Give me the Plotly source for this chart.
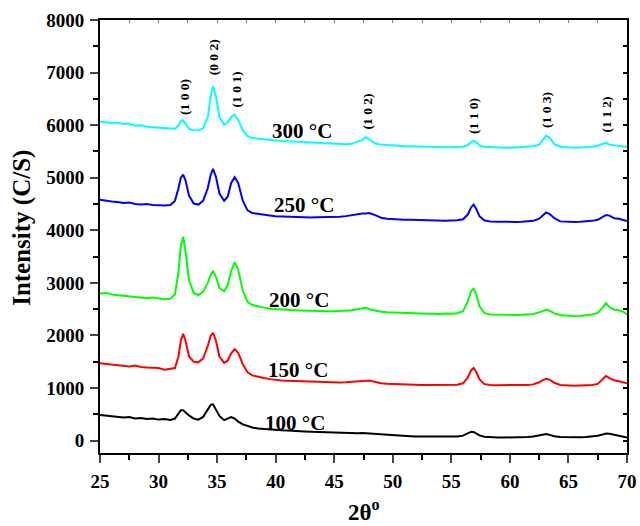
import plotly.graph_objects as go

# 2-theta sampling positions (degrees)
two_theta = [
    25.0, 25.5, 26.0, 26.5, 27.0, 27.5, 28.0, 28.5, 29.0, 29.5,
    30.0, 30.5, 31.0, 31.4, 31.7, 31.9, 32.1, 32.3, 32.6, 33.0,
    33.4, 33.8, 34.2, 34.45, 34.65, 34.9, 35.2, 35.6, 35.9, 36.2,
    36.5, 36.8, 37.2, 37.6, 38.0, 38.5, 39.0, 39.5, 40.0, 40.5,
    41.0, 41.5, 42.0, 42.5, 43.0, 43.5, 44.0, 44.5, 45.0, 45.5,
    46.0, 46.5, 47.0, 47.4, 47.7, 48.0, 48.5, 49.0, 49.5, 50.0,
    50.5, 51.0, 51.5, 52.0, 52.5, 53.0, 53.5, 54.0, 54.5, 55.0,
    55.5, 56.0, 56.4, 56.7, 56.9, 57.1, 57.4, 57.8, 58.3, 59.0,
    59.5, 60.0, 60.5, 61.0, 61.5, 62.0, 62.5, 62.8, 63.1, 63.4,
    63.8, 64.3, 65.0, 65.5, 66.0, 66.5, 67.0, 67.5, 67.9, 68.2,
    68.5, 68.9, 69.3, 69.7, 70.0,
]

int_300 = [
    6070, 6060, 6040, 6050, 6020, 6030, 5990, 6000, 5970, 5960,
    5950, 5940, 5925, 5930, 5990, 6080, 6090, 6020, 5930, 5905,
    5900, 5940, 6150, 6550, 6740, 6550, 6150, 6010, 6050, 6160,
    6200, 6100, 5900, 5790, 5760, 5740, 5730, 5720, 5700, 5700,
    5695, 5690, 5685, 5675, 5670, 5660, 5655, 5650, 5645, 5640,
    5635, 5645, 5680, 5720, 5770, 5720, 5650, 5630, 5620, 5610,
    5605, 5600, 5600, 5595, 5590, 5590, 5585, 5585, 5580, 5580,
    5580, 5590, 5620, 5680, 5710, 5680, 5620, 5590, 5580, 5575,
    5570, 5570, 5575, 5580, 5590, 5600, 5630, 5720, 5800, 5760,
    5640, 5590, 5570, 5570, 5575, 5580, 5590, 5610, 5640, 5665,
    5630, 5620, 5610, 5600, 5585,
]

int_250 = [
    4580, 4560, 4550, 4540, 4520, 4530, 4500, 4490, 4500, 4480,
    4470, 4470, 4480, 4560, 4800, 5000, 5060, 4950, 4660, 4510,
    4490, 4560, 4800, 5050, 5170, 5020, 4700, 4560, 4640, 4900,
    5010, 4900, 4560, 4380, 4330, 4310, 4290, 4280, 4270, 4265,
    4260, 4255, 4250, 4250, 4245, 4250, 4250, 4255, 4260, 4260,
    4270, 4290, 4310, 4320, 4320, 4330, 4290, 4240, 4220, 4210,
    4205, 4200, 4200, 4195, 4190, 4185, 4185, 4180, 4180, 4185,
    4190, 4210, 4300, 4440, 4490, 4420, 4270, 4190, 4170, 4165,
    4160, 4160, 4160, 4165, 4170, 4180, 4220, 4290, 4340, 4310,
    4230, 4170, 4160, 4160, 4165, 4170, 4180, 4200, 4260, 4290,
    4280, 4230, 4220, 4200, 4175,
]

int_200 = [
    2800, 2810, 2780, 2770, 2760, 2740, 2740, 2720, 2710, 2720,
    2700, 2690, 2700, 2780, 3200, 3700, 3880, 3600, 3050, 2810,
    2770, 2830, 3000, 3150, 3220, 3120, 2900, 2840, 2960, 3230,
    3390, 3250, 2850, 2640, 2580, 2550, 2530, 2510, 2500, 2490,
    2490, 2480, 2475, 2470, 2465, 2470, 2465, 2460, 2460, 2465,
    2470, 2480, 2500, 2520, 2525, 2500, 2470, 2450, 2440, 2435,
    2430, 2425, 2430, 2420, 2420, 2415, 2415, 2410, 2420, 2415,
    2425, 2460, 2650, 2850, 2890, 2800, 2560, 2430, 2400, 2395,
    2390, 2390, 2390, 2395, 2400, 2410, 2440, 2470, 2490, 2470,
    2420, 2390, 2370, 2365, 2370, 2380, 2400, 2430, 2520, 2620,
    2540, 2490, 2480, 2450, 2400,
]

int_150 = [
    1470, 1460, 1450, 1440, 1420, 1410, 1430, 1400, 1390, 1385,
    1380, 1350, 1360, 1380, 1600, 1900, 2030, 1900, 1600, 1500,
    1490, 1560, 1800, 1990, 2050, 1900, 1600, 1480, 1520, 1660,
    1740, 1670, 1450, 1300, 1240, 1210, 1190, 1170, 1155, 1145,
    1140, 1135, 1130, 1125, 1120, 1120, 1115, 1110, 1110, 1105,
    1110, 1115, 1125, 1135, 1140, 1145, 1120, 1090, 1080, 1075,
    1070, 1070, 1065, 1065, 1060, 1060, 1060, 1055, 1060, 1060,
    1065, 1090, 1200, 1340, 1380, 1320, 1170, 1080, 1060, 1055,
    1055, 1050, 1055, 1055, 1060, 1070, 1110, 1150, 1175, 1160,
    1100, 1060, 1045, 1045, 1050, 1055, 1060, 1080, 1160, 1230,
    1190, 1150, 1130, 1110, 1090,
]

int_100 = [
    490, 480, 470, 460, 440, 450, 420, 430, 410, 420,
    400, 410, 395, 420, 520, 580, 580, 540, 480, 420,
    400, 450, 580, 680, 690, 600, 470, 390, 420, 450,
    420, 360, 310, 280, 250, 230, 220, 210, 205, 200,
    195, 185, 180, 175, 170, 165, 160, 155, 160, 150,
    150, 145, 140, 145, 140, 135, 125, 115, 110, 100,
    95, 90, 85, 80, 80, 75, 75, 70, 75, 75,
    80, 95, 140, 170, 165, 140, 100, 75, 65, 60,
    60, 60, 60, 65, 70, 80, 100, 120, 125, 110,
    85, 70, 65, 65, 65, 70, 80, 95, 115, 135,
    130, 110, 95, 80, 60,
]

series_names = ["100 °C", "150 °C", "200 °C", "250 °C", "300 °C"]
series_values = [int_100, int_150, int_200, int_250, int_300]
series_colors = ["#000000", "#ff0000", "#00ff00", "#0000ff", "#00ffff"]

# curve label positions (layout)
label_x = [41.65, 41.9, 42.0, 42.4, 42.25]
label_y = [343, 1347, 2680, 4490, 5886]

# Miller-index labels
hkl_text = ["(1 0 0)", "(0 0 2)", "(1 0 1)", "(1 0 2)", "(1 1 0)", "(1 0 3)", "(1 1 2)"]
hkl_x = [32.26, 34.65, 36.61, 47.8, 56.9, 63.13, 68.21]
hkl_y = [6537, 7290, 6680, 6261, 6166, 6280, 6204]

X_RANGE = [25, 70]
Y_RANGE = [-235, 8000]
FONT = "Liberation Serif"

fig = go.Figure()
for name, vals, col in zip(series_names, series_values, series_colors):
    fig.add_trace(go.Scatter(x=two_theta, y=vals, mode="lines", name=name,
                             line=dict(color=col, width=2), showlegend=False))

# invisible trace so the mirrored (top/right) axes are drawn
fig.add_trace(go.Scatter(x=[25], y=[-1000], xaxis="x2", yaxis="y2", mode="markers",
                         marker=dict(size=1, opacity=0), showlegend=False, hoverinfo="skip"))

annotations = []
for t, x, y in zip(series_names, label_x, label_y):
    annotations.append(dict(x=x, y=y, xref="x", yref="y", text=t, showarrow=False,
                            font=dict(family=FONT, size=21, color="black", weight="bold")))
for t, x, y in zip(hkl_text, hkl_x, hkl_y):
    annotations.append(dict(x=x, y=y, xref="x", yref="y", text=t, showarrow=False,
                            textangle=-90,
                            font=dict(family=FONT, size=13.5, color="black", weight="bold")))
annotations.append(dict(x=-0.148, y=0.52, xref="paper", yref="paper", text="Intensity (C/S)",
                        showarrow=False, textangle=-90, xanchor="center", yanchor="middle",
                        font=dict(family=FONT, size=25, color="black", weight="bold")))
annotations.append(dict(x=0.5, y=-0.132, xref="paper", yref="paper", text="2θ<sup>o</sup>",
                        showarrow=False, xanchor="center", yanchor="middle",
                        font=dict(family=FONT, size=23, color="black", weight="bold")))

tickfont = dict(family=FONT, size=19, color="black", weight="bold")

fig.update_layout(
    width=640, height=526,
    margin=dict(l=100, r=13, t=20, b=73, autoexpand=False),
    paper_bgcolor="white", plot_bgcolor="white",
    hovermode=False,
    annotations=annotations,
    xaxis=dict(range=X_RANGE, dtick=5, tick0=25, ticks="outside", ticklen=8, tickwidth=2,
               showline=True, linewidth=2, linecolor="black", showgrid=False, zeroline=False,
               tickfont=tickfont, ticklabelstandoff=2, automargin=False,
               ticklabeloverflow="allow",
               minor=dict(ticks="outside", dtick=2.5, ticklen=5, tickwidth=2, tickcolor="black")),
    yaxis=dict(range=Y_RANGE, dtick=1000, tick0=0, ticks="outside", ticklen=8, tickwidth=2,
               showline=True, linewidth=2, linecolor="black", showgrid=False, zeroline=False,
               tickfont=tickfont, ticklabelstandoff=2, automargin=False,
               ticklabeloverflow="allow",
               minor=dict(ticks="outside", dtick=500, ticklen=5, tickwidth=2, tickcolor="black")),
    xaxis2=dict(range=X_RANGE, overlaying="x", side="top", dtick=2.5, tick0=25,
                ticks="inside", ticklen=3, tickwidth=1, tickcolor="#888888",
                showticklabels=False, showline=True, linewidth=2, linecolor="black",
                showgrid=False, zeroline=False, automargin=False),
    yaxis2=dict(range=Y_RANGE, overlaying="y", side="right", dtick=500, tick0=0,
                ticks="inside", ticklen=4, tickwidth=2, tickcolor="black",
                showticklabels=False, showline=True, linewidth=2, linecolor="black",
                showgrid=False, zeroline=False, automargin=False),
)

# remove the browser's default page margin so the 640x526 figure fills the window exactly
fig.write_html("out.html",
               config={"displayModeBar": False, "staticPlot": True},
               post_script="document.body.style.margin='0';document.body.style.overflow='hidden';")
